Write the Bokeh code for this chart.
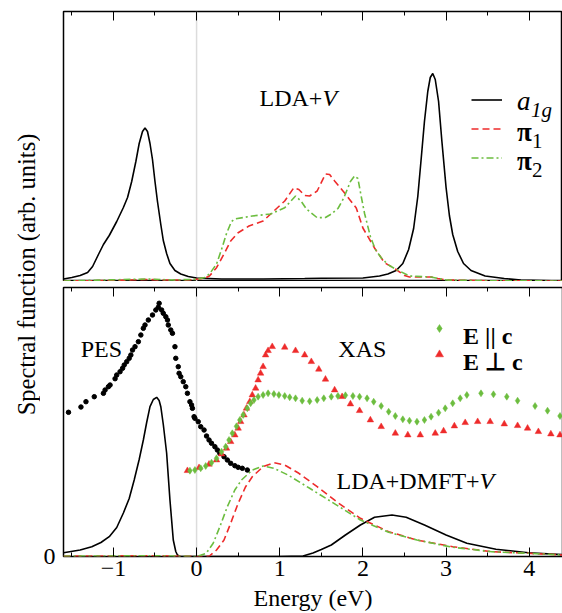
import math
from bokeh.plotting import figure
from bokeh.models import Range1d, LinearAxis, FixedTicker, Span, Legend, LegendItem, Label
from bokeh.layouts import row, column
from bokeh.core.properties import value
from bokeh.embed import file_html
from bokeh.resources import INLINE

FONT = "Liberation Serif"
RED = "#ee2b2b"
GREEN = "#6cbd3f"

# ---------------- data (energies in eV, intensities in arb. units) ----------------
major_ticks = [-1, 0, 1, 2, 3, 4]
minor_ticks = [-1.5, -0.5, 0.5, 1.5, 2.5, 3.5]

# LDA+V (top panel)
top_a1g_E = [-1.6, -1.5, -1.4, -1.31, -1.25, -1.18, -1.12, -1.05, -0.96, -0.88, -0.83, -0.78, -0.73,
             -0.69, -0.65, -0.62, -0.59, -0.56, -0.53, -0.50, -0.47, -0.43, -0.40, -0.36, -0.32, -0.26,
             -0.19, -0.1, 0.0, 0.3, 0.8, 1.3, 1.5, 2.0, 2.2, 2.3, 2.4, 2.48, 2.55, 2.61, 2.66, 2.70,
             2.74, 2.78, 2.81, 2.84, 2.87, 2.91, 2.95, 3.0, 3.04, 3.08, 3.14, 3.21, 3.3, 3.47, 3.7, 3.9, 4.4]
top_a1g_I = [2.5, 4, 6, 9, 15, 27, 37, 46, 60, 74, 84, 100, 120,
             138, 150, 153.5, 150, 138, 122, 100, 80, 57, 41, 28, 18, 11,
             7.5, 5, 3.5, 2.5, 2.5, 3, 3.3, 3.5, 5.5, 7.5, 11, 18, 32, 53, 85, 122,
             160, 190, 204, 208, 202, 180, 140, 94, 66, 47, 30, 18, 11, 5.5, 3, 1.5, 0.5]

top_pi1_E = [-1.6, -1.0, -0.7, -0.6, -0.4, -0.1, 0.0, 0.1, 0.155, 0.24, 0.33, 0.41, 0.5, 0.63, 0.8,
             0.93, 1.06, 1.17, 1.23, 1.30, 1.36, 1.45, 1.55, 1.60, 1.66, 1.79, 1.92, 2.0, 2.14, 2.26,
             2.39, 2.5, 2.56, 2.82, 2.9, 3.0, 3.5, 4.4]
top_pi1_I = [0.5, 1, 1.8, 2, 1.5, 1.5, 2.2, 3.5, 5.5, 13.8, 27.5, 40.5, 48.8, 55.5, 60.5,
             70.5, 80.5, 93.8, 92, 86, 85.5, 90.5, 107.5, 107, 100.5, 87.5, 73.5, 53.5, 33.5, 18.8,
             12.5, 6, 4.5, 4.5, 3, 1.5, 0.8, 0.5]

top_pi2_E = [-1.6, -0.6, -0.3, 0.0, 0.1, 0.155, 0.24, 0.30, 0.36, 0.42, 0.46, 0.67, 0.89, 1.06, 1.19,
             1.26, 1.32, 1.45, 1.55, 1.62, 1.70, 1.77, 1.85, 1.90, 1.94, 1.98, 2.02, 2.09, 2.15, 2.22,
             2.3, 2.39, 2.56, 2.82, 2.9, 3.0, 3.5, 4.4]
top_pi2_I = [0.5, 2.5, 1.5, 2.2, 4, 7.5, 17.5, 32, 48, 60, 62.5, 65.5, 67.5, 73.8, 85.5,
             80, 72.5, 63.8, 64, 67.5, 73, 83.5, 100, 105.5, 103, 85, 68, 45, 32, 23.8,
             17, 12.5, 5.5, 4.5, 3, 1.5, 0.8, 0.5]

# LDA+DMFT+V (bottom panel)
bot_a1g_E = [-1.6, -1.4, -1.26, -1.15, -1.05, -0.96, -0.88, -0.81, -0.75, -0.69, -0.64, -0.60, -0.56,
             -0.52, -0.48, -0.45, -0.43, -0.40, -0.36, -0.32, -0.28, -0.25, -0.23, -0.2, 0.0, 1.0,
             1.28, 1.40, 1.5, 1.62, 1.79, 1.97, 2.14, 2.35, 2.52, 2.74, 3.0, 3.25, 3.6, 3.99, 4.4]
bot_a1g_I = [3.8, 6.5, 9.8, 14, 19.8, 29, 43.5, 58, 76.5, 97, 116.5, 134, 149.8,
             157, 159.2, 156, 149.8, 132, 103.5, 56.5, 16.5, 5, 1.5, 0.3, 0, 0,
             0.5, 3.5, 7, 11.5, 21.5, 31.5, 39.2, 41.5, 39.2, 31.5, 21.5, 13.2, 7.2, 3.8, 1.8]

bot_pi1_E = [-1.6, -0.5, -0.2, 0.0, 0.1, 0.155, 0.24, 0.33, 0.41, 0.5, 0.59, 0.67, 0.8, 0.93, 1.06,
             1.23, 1.45, 1.71, 1.97, 2.31, 2.65, 3.08, 3.55, 3.99, 4.4]
bot_pi1_I = [0.3, 0.8, 0.3, 0, 0.1, 0.5, 6.5, 16.5, 33.2, 53.2, 69.8, 79.8, 89.8, 93.8, 91.5,
             83.2, 69.8, 53.2, 38.2, 24.8, 16.5, 9.8, 4.8, 3.2, 1.5]

bot_pi2_E = [-1.6, -0.5, -0.2, 0.0, 0.115, 0.2, 0.28, 0.37, 0.46, 0.54, 0.67, 0.8, 0.93, 1.1, 1.36,
             1.62, 1.97, 2.31, 2.65, 3.08, 3.55, 3.99, 4.4]
bot_pi2_I = [0.3, 0.8, 0.3, 0, 3.2, 13.2, 29.8, 49.8, 66.5, 76.5, 86.5, 90.5, 88.2, 81.5, 68.2,
             54.8, 36.5, 24.2, 16.5, 9.2, 4.8, 3.2, 1.5]

# PES (experiment)
pes_E = [-1.54, -1.39, -1.33, -1.23, -1.12, -1.10, -1.06, -1.04, -0.98, -0.96, -0.92, -0.89, -0.87,
         -0.84, -0.81, -0.79, -0.77, -0.74, -0.70, -0.67, -0.64, -0.62, -0.58, -0.53, -0.49, -0.46,
         -0.45, -0.42, -0.40, -0.37, -0.35, -0.34, -0.31, -0.29, -0.26, -0.25, -0.22, -0.21, -0.19,
         -0.16, -0.13, -0.11, -0.08, -0.06, -0.05, -0.03, -0.02, 0.02, 0.05, 0.09, 0.12, 0.15, 0.18,
         0.22, 0.25, 0.28, 0.33, 0.37, 0.41, 0.46, 0.50, 0.55, 0.61]
pes_I = [144.2, 149.5, 154.8, 159.8, 163.2, 166.5, 169.8, 171.5, 177.8, 181.5, 184.8, 188.2, 191.5,
         194.8, 198.2, 201.5, 206.5, 209.8, 214.8, 221.5, 228.2, 231.5, 236.5, 241.5, 246.5, 249.2,
         253.2, 246.5, 243.2, 239.8, 236.5, 231.5, 226.5, 223.2, 209.8, 198.2, 189.8, 183.2, 179.8,
         174.8, 169.8, 163.2, 154.8, 151.5, 148.2, 139.8, 138.2, 134.8, 129.8, 126.5, 120.5, 116.5, 113.2,
         109.8, 106.5, 103.2, 99.8, 96.5, 93.2, 90.8, 89.2, 88.2, 86.5]

# XAS, E parallel c
xas_par_E = [-0.08, -0.02, 0.05, 0.11, 0.18, 0.24, 0.30, 0.35, 0.39, 0.43, 0.48, 0.52, 0.56, 0.61, 0.65,
             0.69, 0.74, 0.80, 0.86, 0.93, 0.99, 1.06, 1.12, 1.19, 1.27, 1.36, 1.45, 1.53, 1.62, 1.70,
             1.79, 1.88, 1.96, 2.05, 2.13, 2.22, 2.31, 2.39, 2.48, 2.56, 2.65, 2.74, 2.82, 2.91, 2.99,
             3.08, 3.17, 3.25, 3.42, 3.57, 3.73, 3.86, 4.07, 4.22, 4.37]
xas_par_I = [85.8, 86.5, 88.2, 90.5, 93.8, 98.2, 104.8, 109.8, 116.5, 123.2, 130.2, 136.5, 141.5, 148.2, 153.2,
             156.5, 159.8, 161.5, 163.2, 162.5, 161.5, 160.5, 159.2, 158.2, 155.8, 155.2, 156.5, 158.2, 159.8, 160.5,
             161.2, 160.5, 159.8, 158.2, 154.8, 150.5, 144.8, 140.5, 137.2, 135.8, 134.8, 136.5, 139.8, 143.8, 148.2,
             153.2, 158.2, 161.5, 163.2, 162.2, 159.8, 155.8, 150.5, 145.8, 140.5]

# XAS, E perpendicular c
xas_perp_E = [-0.11, 0.03, 0.15, 0.24, 0.30, 0.36, 0.41, 0.46, 0.50, 0.53, 0.57, 0.60, 0.64, 0.67, 0.71,
              0.74, 0.77, 0.80, 0.83, 0.86, 0.91, 1.06, 1.19, 1.30, 1.38, 1.47, 1.55, 1.66, 1.75, 1.85,
              1.96, 2.09, 2.22, 2.39, 2.54, 2.69, 2.87, 2.97, 3.10, 3.23, 3.38, 3.53, 3.70, 3.86, 3.98,
              4.11, 4.26, 4.37]
xas_perp_I = [85.8, 88.8, 92.2, 96.5, 102.5, 108.2, 114.8, 121.5, 128.2, 134.8, 141.5, 148.2, 154.8, 161.5, 168.2,
              176.5, 183.2, 189.8, 201.5, 205.8, 209.8, 209.2, 205.8, 201.5, 194.8, 187.2, 177.2, 166.5, 159.8, 152.5,
              145.8, 136.5, 129.8, 123.2, 121.5, 121.5, 123.2, 125.5, 130.5, 133.8, 134.8, 134.8, 132.5, 130.8, 128.2,
              124.8, 122.5, 121.5]

X_RANGE = (-1.6, 4.4)
LEFT_W = 40          # width of the strip holding the shared y label
PANEL_LEFT = 62 - LEFT_W


def tick_axis(with_labels):
    ax = LinearAxis(ticker=FixedTicker(ticks=major_ticks, minor_ticks=minor_ticks),
                    axis_line_color=None,
                    major_tick_in=9, major_tick_out=0, minor_tick_in=4, minor_tick_out=0,
                    major_tick_line_color="black", minor_tick_line_color="black",
                    major_tick_line_width=1, minor_tick_line_width=1)
    if with_labels:
        ax.major_label_text_font = FONT
        ax.major_label_text_font_size = "24px"
        ax.major_label_text_color = "black"
        ax.major_label_standoff = 4
    else:
        ax.major_label_text_font_size = "1px"
        ax.major_label_text_color = None
        ax.major_label_standoff = 0
    return ax


def panel(y_end, top_border):
    p = figure(frame_width=561 - 62, frame_height=270,
               x_range=Range1d(*X_RANGE), y_range=Range1d(0, y_end),
               x_axis_type=None, y_axis_type=None,
               toolbar_location=None, output_backend="svg",
               min_border_left=PANEL_LEFT, min_border_right=1,
               min_border_top=top_border, min_border_bottom=0,
               outline_line_color="black", outline_line_width=1.5,
               background_fill_color="white", border_fill_color="white")
    p.add_layout(Span(location=0, dimension="height", line_color="#dcdcdc", line_width=1.5,
                      level="underlay"))
    return p


def txt(p, x, y, s, size="24px", style="normal", align="left", xoff=0):
    p.text(x=[x], y=[y], text=[s], text_font=value(FONT), text_font_size=size,
           text_font_style=style, text_align=align, text_baseline="alphabetic",
           text_color="black", x_offset=xoff)


def marker_legend(items, loc, gw, gh):
    return Legend(items=items, location=loc, glyph_width=gw, glyph_height=gh, label_height=1,
                  label_width=1, label_standoff=0, label_text_font_size="1px",
                  label_text_color=None, padding=0, margin=0, spacing=0,
                  border_line_color=None, background_fill_alpha=0)


# ---------------- top panel ----------------
top = panel(270, 11)
top.frame_height = 270
top.add_layout(tick_axis(False), "above")

r_a = top.line(top_a1g_E, top_a1g_I, line_color="black", line_width=1.6)
r_p1 = top.line(top_pi1_E, top_pi1_I, line_color=RED, line_width=1.6, line_dash="7 4")
r_p2 = top.line(top_pi2_E, top_pi2_I, line_color=GREEN, line_width=1.6, line_dash="7 3 2 3")

top.add_layout(marker_legend([LegendItem(label=" ", renderers=[r_a]),
                              LegendItem(label=" ", renderers=[r_p1]),
                              LegendItem(label=" ", renderers=[r_p2])], (408, 109), 31, 29))

txt(top, 1.513, 184, "LDA+", align="right")
txt(top, 1.513, 184, "V", style="italic")
txt(top, 3.853, 181, "a", size="27px", style="italic")
txt(top, 3.853, 172, "1g", size="21px", style="italic", xoff=14)
txt(top, 3.853, 150, "π", size="27px", style="bold")
txt(top, 3.853, 141, "1", size="21px", xoff=15)
txt(top, 3.853, 121, "π", size="27px", style="bold")
txt(top, 3.853, 112, "2", size="21px", xoff=15)

# ---------------- bottom panel ----------------
bot = panel(269, 6)
bot.frame_height = 269
bot.add_layout(tick_axis(False), "above")
xax = tick_axis(True)
xax.axis_label = "Energy (eV)"
xax.axis_label_text_font = FONT
xax.axis_label_text_font_size = "24px"
xax.axis_label_text_font_style = "normal"
xax.axis_label_text_color = "black"
xax.axis_label_standoff = 6
bot.add_layout(xax, "below")
yax = LinearAxis(ticker=FixedTicker(ticks=[0]), axis_line_color=None,
                 major_tick_in=0, major_tick_out=0, minor_tick_in=0, minor_tick_out=0,
                 major_tick_line_color=None, minor_tick_line_color=None,
                 major_label_text_font=FONT, major_label_text_font_size="24px",
                 major_label_text_color="black", major_label_standoff=8)
bot.add_layout(yax, "left")

bot.line(bot_a1g_E, bot_a1g_I, line_color="black", line_width=1.6)
bot.line(bot_pi1_E, bot_pi1_I, line_color=RED, line_width=1.6, line_dash="7 4")
bot.line(bot_pi2_E, bot_pi2_I, line_color=GREEN, line_width=1.6, line_dash="7 3 2 3")
bot.scatter(pes_E, pes_I, marker="circle", size=4.5, color="black")
r_perp = bot.scatter(xas_perp_E, xas_perp_I, marker="triangle", size=6.5, color=RED, line_width=0.5)
r_par = bot.scatter(xas_par_E, xas_par_I, marker="diamond", size=7, color=GREEN, line_width=0.5)

bot.add_layout(marker_legend([LegendItem(label=" ", renderers=[r_par]),
                              LegendItem(label=" ", renderers=[r_perp])], (366, 189), 20, 26))

txt(bot, -1.393, 207.7, "PES")
txt(bot, 1.705, 207.7, "XAS")
txt(bot, 3.403, 76, "LDA+DMFT+", align="right")
txt(bot, 3.403, 76, "V", style="italic")
txt(bot, 3.205, 221, "E || c", style="bold")
txt(bot, 3.205, 194.3, "E ⊥ c", style="bold")

# ---------------- shared y-axis label ----------------
ylab = figure(width=LEFT_W, height=613, x_range=Range1d(0, LEFT_W), y_range=Range1d(0, 613),
              x_axis_type=None, y_axis_type=None, toolbar_location=None, output_backend="svg",
              min_border=0, outline_line_color=None, border_fill_color="white")
ylab.add_layout(Label(x=25.5, y=613 - 274, text="Spectral function (arb. units)", angle=math.pi / 2,
                      text_align="center", text_baseline="middle", text_font=FONT,
                      text_font_size="24.5px", text_color="black"))

layout = row(ylab, column(top, bot, spacing=0), spacing=0)
open("out.html", "w").write(file_html(layout, INLINE))
